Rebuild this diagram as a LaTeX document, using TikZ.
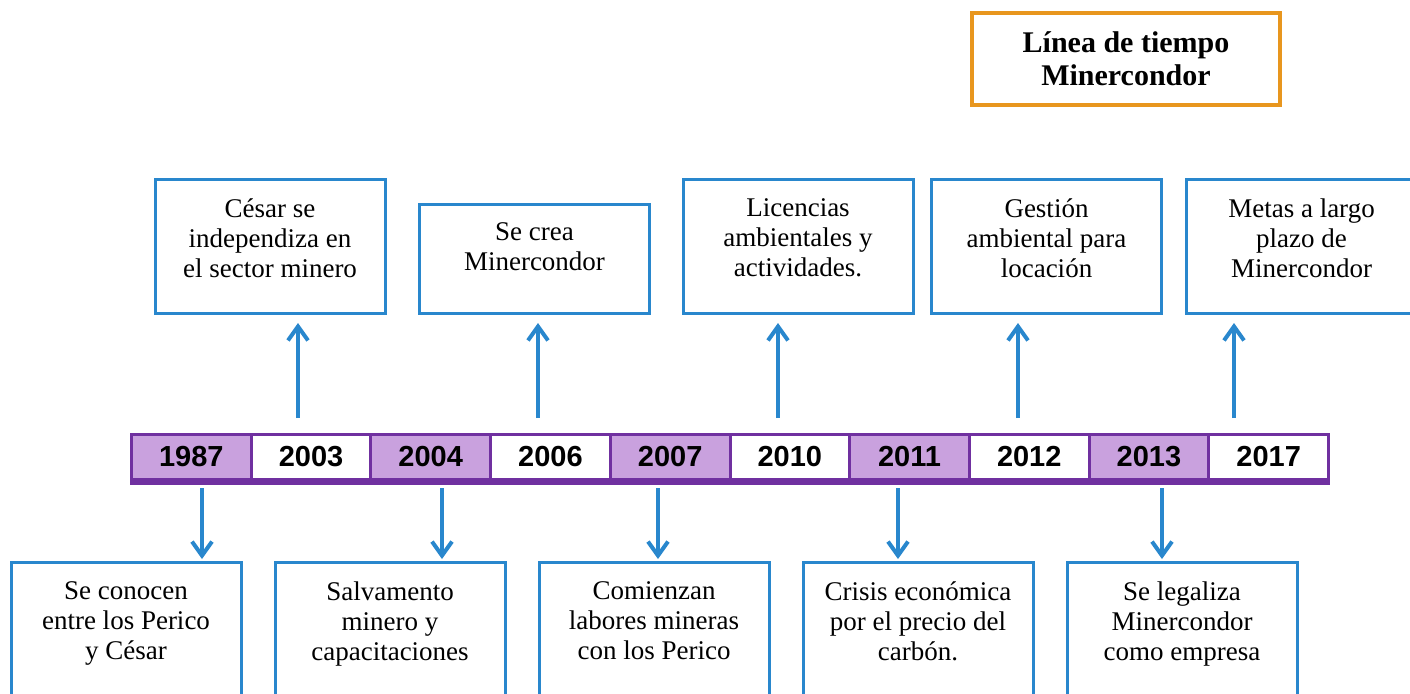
\documentclass[tikz,border=0pt]{standalone}
\usepackage{fontspec}
\setmainfont{Liberation Serif}
\newfontfamily\yearfont{Liberation Sans}
\usetikzlibrary{arrows.meta}

\definecolor{tlblue}{RGB}{41,135,205}
\definecolor{tlpurple}{RGB}{112,48,160}
\definecolor{tllilac}{RGB}{201,161,222}
\definecolor{tlorange}{RGB}{232,150,30}

\tikzset{
  yearcell/.style={draw=tlpurple, line width=1.5pt, minimum width=59.85pt, minimum height=22.5pt, inner sep=0pt, font=\yearfont\bfseries\fontsize{14.5}{16}\selectfont},
  lilaccell/.style={yearcell, fill=tllilac},
  infobox/.style={draw=tlblue, line width=1.5pt, inner sep=0pt, minimum width=115pt},
  infotext/.style={anchor=north, yshift=-10pt, align=center, inner sep=0pt, font=\fontsize{13.5}{15}\selectfont},
  tlarrow/.style={draw=tlblue, line width=2pt, -{Straight Barb[length=7pt,width=10pt]}},
}

\begin{document}
\begin{tikzpicture}[x=0.5pt, y=-0.5pt]
\useasboundingbox (0, 0) rectangle (1410, 693);
\clip (0, 0) rectangle (1410, 693);

% title
\node [draw=tlorange, line width=2pt, minimum width=154pt, minimum height=46pt, align=center, font=\bfseries\fontsize{15}{16.5}\selectfont] (title) at (1126, 59) {Línea de tiempo\\Minercondor};

% year bar
\node [lilaccell] (1987) at (191.35, 457) {1987};
\node [yearcell] (2003) at (311.05, 457) {2003};
\node [lilaccell] (2004) at (430.75, 457) {2004};
\node [yearcell] (2006) at (550.45, 457) {2006};
\node [lilaccell] (2007) at (670.15, 457) {2007};
\node [yearcell] (2010) at (789.85, 457) {2010};
\node [lilaccell] (2011) at (909.55, 457) {2011};
\node [yearcell] (2012) at (1029.25, 457) {2012};
\node [lilaccell] (2013) at (1148.95, 457) {2013};
\node [yearcell] (2017) at (1268.65, 457) {2017};
\draw [tlpurple, line width=3.5pt] (1987.south west) to (2017.south east);

% upper boxes
\node [infobox, minimum height=67pt, label={[infotext]north:{César se\\independiza en\\el sector minero}}] (10) at (270, 246.5) {};
\node [infobox, minimum height=54.5pt, label={[infotext, yshift=0.5pt]north:{Se crea\\Minercondor}}] (11) at (534.5, 259) {};
\node [infobox, minimum height=67pt, label={[infotext]north:{Licencias\\ambientales y\\actividades.}}] (12) at (798, 246.5) {};
\node [infobox, minimum height=67pt, label={[infotext]north:{Gestión\\ambiental para\\locación}}] (13) at (1046.5, 246.5) {};
\node [infobox, minimum height=67pt, label={[infotext]north:{Metas a largo\\plazo de\\Minercondor}}] (14) at (1301.5, 246.5) {};

% lower boxes
\node [infobox, minimum height=99pt, label={[infotext, yshift=-0.5pt]north:{Se conocen\\entre los Perico\\y César}}] (15) at (126, 661) {};
\node [infobox, minimum height=99pt, label={[infotext, yshift=-0.5pt]north:{Salvamento\\minero y\\capacitaciones}}] (16) at (390, 661) {};
\node [infobox, minimum height=99pt, label={[infotext, yshift=-0.5pt]north:{Comienzan\\labores mineras\\con los Perico}}] (17) at (654, 661) {};
\node [infobox, minimum height=99pt, label={[infotext, yshift=-0.5pt]north:{Crisis económica\\por el precio del\\carbón.}}] (18) at (918, 661) {};
\node [infobox, minimum height=99pt, label={[infotext, yshift=-0.5pt]north:{Se legaliza\\Minercondor\\como empresa}}] (19) at (1182, 661) {};

% arrow ends
\node [] (20) at (298, 418) {};
\node [] (21) at (298, 323) {};
\node [] (22) at (538, 418) {};
\node [] (23) at (538, 323) {};
\node [] (24) at (778, 418) {};
\node [] (25) at (778, 323) {};
\node [] (26) at (1018, 418) {};
\node [] (27) at (1018, 323) {};
\node [] (28) at (1234, 418) {};
\node [] (29) at (1234, 323) {};

\node [] (30) at (202, 488) {};
\node [] (31) at (202, 559) {};
\node [] (32) at (442, 488) {};
\node [] (33) at (442, 559) {};
\node [] (34) at (658, 488) {};
\node [] (35) at (658, 559) {};
\node [] (36) at (898, 488) {};
\node [] (37) at (898, 559) {};
\node [] (38) at (1162, 488) {};
\node [] (39) at (1162, 559) {};

\draw [tlarrow] (20.center) to (21.center);
\draw [tlarrow] (22.center) to (23.center);
\draw [tlarrow] (24.center) to (25.center);
\draw [tlarrow] (26.center) to (27.center);
\draw [tlarrow] (28.center) to (29.center);

\draw [tlarrow] (30.center) to (31.center);
\draw [tlarrow] (32.center) to (33.center);
\draw [tlarrow] (34.center) to (35.center);
\draw [tlarrow] (36.center) to (37.center);
\draw [tlarrow] (38.center) to (39.center);
\end{tikzpicture}
\end{document}
